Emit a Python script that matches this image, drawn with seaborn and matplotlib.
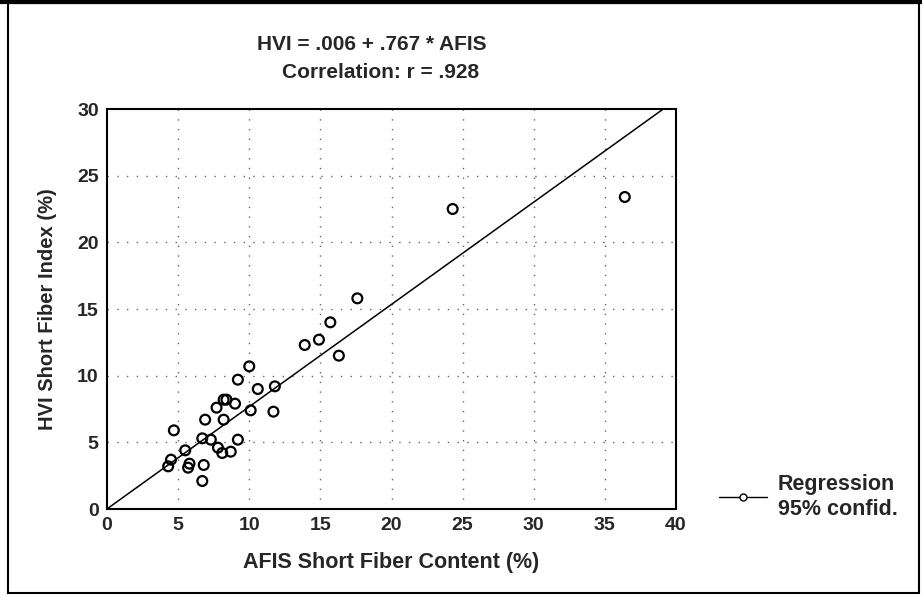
import matplotlib as mpl
mpl.use('agg')
import matplotlib.pyplot as plt
from matplotlib import font_manager
from matplotlib.lines import Line2D
from matplotlib.patches import Rectangle
import seaborn as sns
import pandas as pd
import numpy as np

# data
afis = [4.3, 4.5, 4.7, 5.5, 5.7, 5.8, 6.7, 6.7, 6.8, 6.9, 7.3, 7.7, 7.8, 8.1, 8.2,
        8.2, 8.4, 8.7, 9.0, 9.2, 9.2, 10.0, 10.1, 10.6, 11.7, 11.8, 13.9, 14.9,
        15.7, 16.3, 17.6, 24.3, 36.4]
hvi = [3.2, 3.7, 5.9, 4.4, 3.1, 3.4, 5.3, 2.1, 3.3, 6.7, 5.2, 7.6, 4.6, 4.2, 6.7,
       8.2, 8.2, 4.3, 7.9, 9.7, 5.2, 10.7, 7.4, 9.0, 7.3, 9.2, 12.3, 12.7,
       14.0, 11.5, 15.8, 22.5, 23.4]
intercept = 0.006
slope = 0.767
r_value = 0.928

xticks = [0, 5, 10, 15, 20, 25, 30, 35, 40]
yticks = [0, 5, 10, 15, 20, 25, 30]

df = pd.DataFrame({'afis': afis, 'hvi': hvi})
fit = pd.DataFrame({'afis': [0, 40]})
fit['hvi'] = intercept + slope * fit['afis']

sns.set_style('white')
names = {f.name for f in font_manager.fontManager.ttflist}
fam = [n for n in ['Liberation Sans Narrow', 'Liberation Sans', 'DejaVu Sans'] if n in names]
plt.rcParams['font.family'] = fam
plt.rcParams['font.weight'] = 'bold'

fig = plt.figure(figsize=(9.22, 5.96), dpi=100)
ax = fig.add_axes([107/922, 1 - 509/596, (676 - 107)/922, 400/596])

# dotted grid
for xt in xticks[1:-1]:
    ax.axvline(xt, color='0.4', lw=1, ls=(0, (1, 6)), zorder=0)
for yt in yticks[1:-1]:
    ax.axhline(yt, color='0.4', lw=1, ls=(0, (1, 6)), zorder=0)

sns.lineplot(data=fit, x='afis', y='hvi', ax=ax, color='black', lw=1.1)
sns.scatterplot(data=df, x='afis', y='hvi', ax=ax, marker='o', s=50,
                facecolor='none', edgecolor='black', linewidth=1.6, zorder=3)

ax.set(xlim=(0, 40), ylim=(0, 30), xticks=xticks, yticks=yticks)
ax.tick_params(length=0, labelsize=14, pad=6)
for lab in ax.get_xticklabels() + ax.get_yticklabels():
    lab.set_fontweight('bold')
for sp in ax.spines.values():
    sp.set_linewidth(1.5)
    sp.set_color('black')
ax.set_xlabel('AFIS Short Fiber Content (%)', fontsize=15.5, fontweight='bold', labelpad=13)
ax.set_ylabel('HVI Short Fiber Index (%)', fontsize=14.5, fontweight='bold', labelpad=14)

fig.text(372/922, 1 - 45/596, 'HVI = .006 + .767 * AFIS', ha='center', va='center',
         fontsize=15, fontweight='bold')
fig.text(381/922, 1 - 73/596, 'Correlation: r = %s' % ('%.3f' % r_value).lstrip('0'),
         ha='center', va='center', fontsize=15, fontweight='bold')

handle = Line2D([], [], color='black', lw=1, marker='o', markersize=5,
                markerfacecolor='white', markeredgecolor='black')
leg = fig.legend([handle], ['Regression\n95% confid.'], loc='center left',
                 bbox_to_anchor=(700/922, 1 - 497/596), frameon=False,
                 handlelength=2.2, handletextpad=0.5, labelspacing=0.2,
                 prop={'size': 15.5, 'weight': 'bold'})

# outer frame
fig.patches.append(Rectangle((8/922, 3/596), 911/922, 590/596, transform=fig.transFigure,
                             fill=False, edgecolor='black', lw=1.5))
fig.lines.append(Line2D([0, 1], [1 - 2/596, 1 - 2/596], transform=fig.transFigure,
                        color='black', lw=3))

fig.savefig('out.png', dpi=100, facecolor='white')
